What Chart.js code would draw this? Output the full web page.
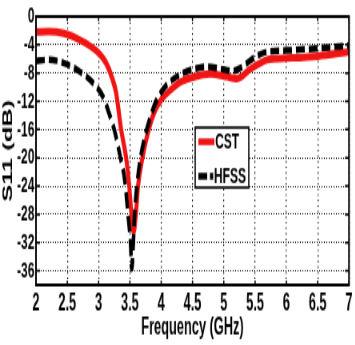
<!DOCTYPE html>
<html>
<head>
<meta charset="utf-8">
<script src="https://cdn.jsdelivr.net/npm/chart.js@4.4.1/dist/chart.umd.min.js"></script>
<style>
html, body { margin: 0; padding: 0; background: #fff; }
#page { width: 355px; height: 345px; position: relative; overflow: hidden; }
/* the original figure is squeezed sideways and stretched vertically, so the chart is drawn flat and scaled */
#wrap { position: absolute; left: 0; top: 0; width: 444px; height: 230px; transform: scale(0.8, 1.5); transform-origin: 0 0; }
</style>
</head>
<body>
<div id="page"><div id="wrap"><canvas id="chart" width="444" height="230"></canvas></div></div>
<script>
const seriesNames = ['CST', 'HFSS'];

const freqCst = [2.0, 2.2, 2.45, 2.7, 2.97, 3.12, 3.22, 3.28, 3.36, 3.44, 3.49, 3.52, 3.56, 3.6, 3.63, 3.7, 3.8, 3.9, 4.0, 4.15, 4.3, 4.5, 4.78, 5.05, 5.2, 5.3, 5.4, 5.58, 5.7, 6.0, 6.5, 7.0];
const s11Cst = [-2.2, -2.1, -2.4, -3.3, -4.9, -6.6, -8.8, -10.8, -16, -20, -24, -27.5, -30.5, -27.5, -24, -20, -16, -13.3, -11.8, -10.4, -9.3, -8.6, -8.1, -8.5, -8.8, -8.4, -7.6, -6.6, -6.1, -5.9, -5.6, -5.0];

const freqHfss = [2.0, 2.2, 2.45, 2.7, 2.9, 3.08, 3.16, 3.25, 3.35, 3.42, 3.47, 3.51, 3.53, 3.555, 3.575, 3.62, 3.67, 3.77, 3.92, 4.05, 4.2, 4.35, 4.5, 4.73, 4.95, 5.15, 5.26, 5.37, 5.47, 5.69, 6.0, 6.5, 7.0];
const s11Hfss = [-6.3, -6.1, -6.6, -7.8, -9.3, -11.5, -13.5, -16, -20, -23.3, -28, -32, -35.7, -32, -28, -23.3, -20, -16, -12, -10.1, -8.8, -8.0, -7.5, -7.1, -7.4, -7.7, -7.3, -6.6, -5.9, -5.0, -4.8, -4.5, -4.1];

const xTicks = [2, 2.5, 3, 3.5, 4, 4.5, 5, 5.5, 6, 6.5, 7];
const yTicks = [0, -4, -8, -12, -16, -20, -24, -28, -32, -36];

const FONT = "'Liberation Sans', Arial, sans-serif";

const frame = {
    id: 'frame',
    afterDraw(chart) {
        const { ctx, chartArea: a, scales } = chart;
        ctx.save();
        ctx.strokeStyle = '#000';
        ctx.lineWidth = 2;
        ctx.strokeRect(a.left, a.top, a.right - a.left, a.bottom - a.top);

        // inward tick marks on all four sides
        ctx.lineWidth = 1.5;
        ctx.beginPath();
        xTicks.forEach(v => {
            const x = scales.x.getPixelForValue(v);
            ctx.moveTo(x, a.bottom); ctx.lineTo(x, a.bottom - 3);
            ctx.moveTo(x, a.top); ctx.lineTo(x, a.top + 3);
        });
        yTicks.forEach(v => {
            const y = scales.y.getPixelForValue(v);
            ctx.moveTo(a.left, y); ctx.lineTo(a.left + 5, y);
            ctx.moveTo(a.right, y); ctx.lineTo(a.right - 5, y);
        });
        ctx.stroke();

        // legend box
        ctx.fillStyle = '#fff';
        ctx.fillRect(244, 85, 67, 40);
        ctx.lineWidth = 1.6;
        ctx.strokeRect(244, 85, 67, 40);

        ctx.lineWidth = 4.5;
        ctx.strokeStyle = chart.data.datasets[0].borderColor;
        ctx.beginPath(); ctx.moveTo(248, 94.5); ctx.lineTo(268, 94.5); ctx.stroke();

        ctx.strokeStyle = '#000';
        ctx.beginPath();
        ctx.moveTo(248, 117.5); ctx.lineTo(259, 117.5);
        ctx.moveTo(262.5, 117.5); ctx.lineTo(266.5, 117.5);
        ctx.stroke();

        ctx.fillStyle = '#000';
        ctx.font = 'bold 15px ' + FONT;
        ctx.textBaseline = 'middle';
        ctx.fillText(seriesNames[0], 269, 95);
        ctx.fillText(seriesNames[1], 267.5, 118);
        ctx.restore();
    }
};

new Chart(document.getElementById('chart'), {
    type: 'line',
    data: {
        datasets: [{
                label: seriesNames[0],
                data: freqCst.map((f, i) => ({ x: f, y: s11Cst[i] })),
                borderColor: '#f01414',
                borderWidth: 5,
                cubicInterpolationMode: 'monotone',
                order: 1
            },
            {
                label: seriesNames[1],
                data: freqHfss.map((f, i) => ({ x: f, y: s11Hfss[i] })),
                borderColor: '#000',
                borderWidth: 4.5,
                borderDash: [11, 5],
                cubicInterpolationMode: 'monotone',
                order: 0
            }
        ]
    },
    options: {
        responsive: false,
        animation: false,
        devicePixelRatio: 1,
        layout: { padding: { top: 10, right: 7.75, left: 0, bottom: 0 } },
        elements: { point: { radius: 0 } },
        plugins: { legend: { display: false }, tooltip: { enabled: false } },
        scales: {
            x: {
                type: 'linear',
                min: 2,
                max: 7,
                afterBuildTicks: s => { s.ticks = xTicks.map(v => ({ value: v })); },
                afterFit: s => { s.height = 40; },
                grid: { color: '#000', lineWidth: 1.2, drawTicks: false },
                border: { display: false, dash: [1.2, 2.5] },
                ticks: {
                    color: '#000', padding: 3, autoSkip: false, maxRotation: 0,
                    font: { family: FONT, size: 16, weight: 'bold' },
                    callback: v => String(v)
                },
                title: {
                    display: true,
                    text: 'Frequency (GHz)',
                    color: '#000',
                    padding: { top: 0, bottom: 2 },
                    font: { family: FONT, size: 16, weight: 'bold' }
                }
            },
            y: {
                min: -38,
                max: 0,
                afterBuildTicks: s => { s.ticks = yTicks.map(v => ({ value: v })); },
                afterFit: s => { s.width = 45; },
                grid: { color: '#000', lineWidth: 1, drawTicks: false },
                border: { display: false, dash: [1, 2] },
                ticks: {
                    color: '#000', padding: 2, autoSkip: false,
                    font: { family: FONT, size: 15, weight: 'bold' },
                    callback: v => String(v)
                },
                title: {
                    display: true,
                    text: 'S11 (dB)',
                    color: '#000',
                    padding: 0,
                    font: { family: FONT, size: 17, weight: 'bold' }
                }
            }
        }
    },
    plugins: [frame]
});
</script>
</body>
</html>
